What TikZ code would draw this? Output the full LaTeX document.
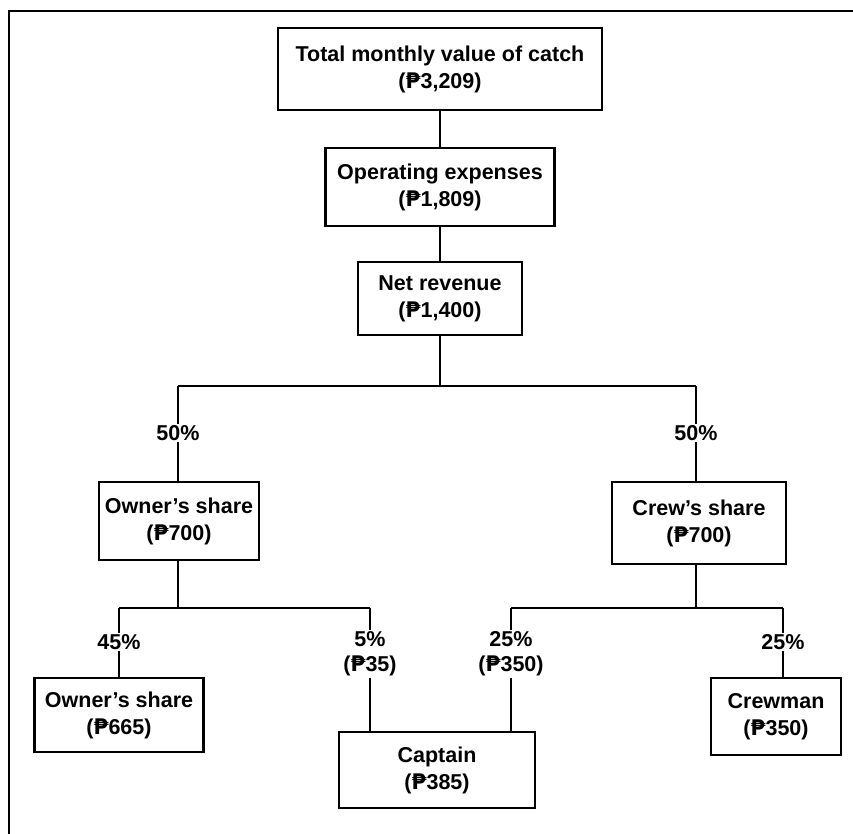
\documentclass[tikz,border=0pt]{standalone}
\usepackage{fontspec}
\setmainfont{Liberation Sans}
\newfontfamily\pesofont{DejaVu Sans}
\newcommand{\peso}{{\pesofont\bfseries ₱}}
\begin{document}
\begin{tikzpicture}[x=1pt,y=-1pt,
  box/.style={draw,line width=2.7pt,align=center,inner sep=0pt,
    font=\fontsize{21.5}{27}\selectfont\bfseries},
  conn/.style={line width=2.1pt},
  lbl/.style={fill=white,inner sep=1.5pt,align=center,
    font=\fontsize{21.5}{25}\selectfont\bfseries}]
\useasboundingbox (0,0) rectangle (853,833);
\clip (0,0) rectangle (853,833);
\draw[line width=2.2pt] (9,850) -- (9,11) -- (870,11);
% boxes
\node[box,minimum width=324pt,minimum height=82pt] (total) at (440,69)
  {Total monthly value of catch\\(\peso3,209)};
\node[box,minimum width=229pt,minimum height=78pt] (op) at (440,187)
  {Operating expenses\\(\peso1,809)};
\node[box,minimum width=164pt,minimum height=73pt] (net) at (440,298.5)
  {Net revenue\\(\peso1,400)};
\node[box,minimum width=160pt,minimum height=78pt] (own1) at (179,521)
  {Owner's share\\(\peso700)};
\node[box,minimum width=174pt,minimum height=82pt] (crew) at (699,523)
  {Crew's share\\(\peso700)};
\node[box,minimum width=169pt,minimum height=74pt] (own2) at (119,715)
  {Owner's share\\(\peso665)};
\node[box,minimum width=196pt,minimum height=76pt] (capt) at (437,770)
  {Captain\\(\peso385)};
\node[box,minimum width=130pt,minimum height=77pt] (crewman) at (776,716.5)
  {Crewman\\(\peso350)};
% junction coordinates
\coordinate (j1) at (440,386);
\coordinate (j1l) at (178,386);
\coordinate (j1r) at (696,386);
\coordinate (j2) at (178,608);
\coordinate (j2l) at (119,608);
\coordinate (j2r) at (370,608);
\coordinate (j3) at (696,608);
\coordinate (j3l) at (511,608);
\coordinate (j3r) at (783,608);
% connectors
\draw[conn] (total.south) -- (op.north);
\draw[conn] (op.south) -- (net.north);
\draw[conn] (net.south) -- (j1);
\draw[conn] (j1l) -- (j1r);
\draw[conn] (j1l) -- (j1l |- own1.north);
\draw[conn] (j1r) -- (j1r |- crew.north);
\draw[conn] (own1.south -| j2) -- (j2);
\draw[conn] (j2l) -- (j2r);
\draw[conn] (crew.south -| j3) -- (j3);
\draw[conn] (j3l) -- (j3r);
\draw[conn] (j2l) -- (j2l |- own2.north);
\draw[conn] (j2r) -- (j2r |- capt.north);
\draw[conn] (j3l) -- (j3l |- capt.north);
\draw[conn] (j3r) -- (j3r |- crewman.north);
% labels
\node[lbl] (l1) at (178,433) {50\%};
\node[lbl] (l2) at (696,433) {50\%};
\node[lbl] (l3) at (119,642) {45\%};
\node[lbl] (l4) at (370,654) {5\%\\(\peso35)};
\node[lbl] (l5) at (511,654) {25\%\\(\peso350)};
\node[lbl] (l6) at (783,642) {25\%};
\end{tikzpicture}
\end{document}
